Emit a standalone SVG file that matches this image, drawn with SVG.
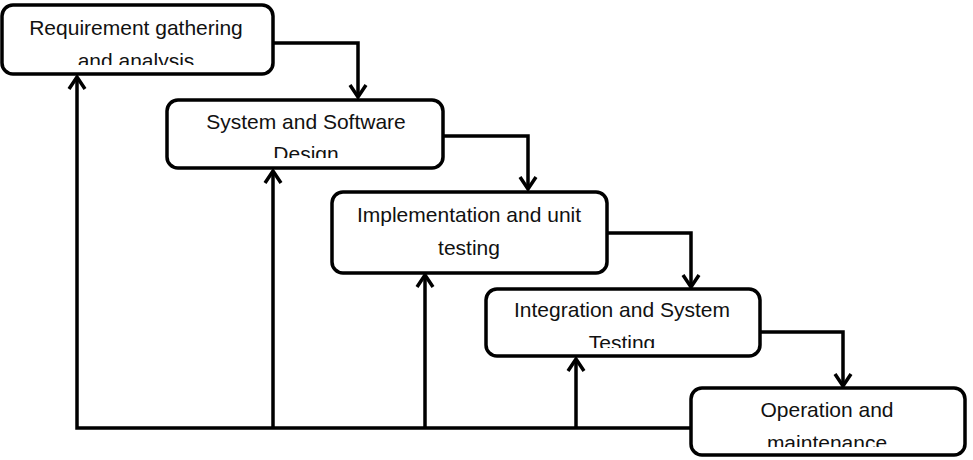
<svg xmlns="http://www.w3.org/2000/svg" width="973" height="460" viewBox="0 0 973 460">
  <style>
    .box { fill: #fff; stroke: #000; stroke-width: 3.5; }
    .lbl { font-family: "Liberation Sans", Arial, sans-serif; font-size: 21px; fill: #111; text-anchor: middle; }
    .con { fill: none; stroke: #000; stroke-width: 3.5; }
  </style>
  <defs>
    <marker id="ah" markerUnits="userSpaceOnUse" viewBox="-3 -3 18 22" markerWidth="18" markerHeight="22" refX="12" refY="8" orient="auto">
      <path d="M0,0 L12,8 L0,16" fill="none" stroke="#000" stroke-width="3.5"/>
    </marker>
    <clipPath id="c1"><rect x="0" y="0" width="300" height="65"/></clipPath>
    <clipPath id="c2"><rect x="160" y="90" width="300" height="68"/></clipPath>
    <clipPath id="c4"><rect x="480" y="280" width="300" height="68"/></clipPath>
    <clipPath id="c5"><rect x="680" y="380" width="300" height="67"/></clipPath>
  </defs>

  <g id="connectors">
    <path class="con" d="M273,43 H358 V97" marker-end="url(#ah)"/>
    <path class="con" d="M443,136 H528 V189" marker-end="url(#ah)"/>
    <path class="con" d="M607,233 H691 V287" marker-end="url(#ah)"/>
    <path class="con" d="M760,332 H843 V386" marker-end="url(#ah)"/>
    <path class="con" d="M690,428 H77 V77" marker-end="url(#ah)"/>
    <path class="con" d="M273,428 V171" marker-end="url(#ah)"/>
    <path class="con" d="M425,428 V275" marker-end="url(#ah)"/>
    <path class="con" d="M576,428 V359" marker-end="url(#ah)"/>
  </g>

  <g id="node1">
    <rect class="box" x="2" y="5" width="271" height="69" rx="11"/>
    <g clip-path="url(#c1)">
      <text class="lbl" x="136" y="35">Requirement gathering</text>
      <text class="lbl" x="136" y="68">and analysis</text>
    </g>
  </g>
  <g id="node2">
    <rect class="box" x="167" y="100" width="276" height="68" rx="11"/>
    <g clip-path="url(#c2)">
      <text class="lbl" x="306" y="129">System and Software</text>
      <text class="lbl" x="306" y="161">Design</text>
    </g>
  </g>
  <g id="node3">
    <rect class="box" x="332" y="192" width="275" height="81" rx="11"/>
    <text class="lbl" x="469" y="222">Implementation and unit</text>
    <text class="lbl" x="469" y="255">testing</text>
  </g>
  <g id="node4">
    <rect class="box" x="486" y="289" width="274" height="67" rx="11"/>
    <g clip-path="url(#c4)">
      <text class="lbl" x="622" y="317">Integration and System</text>
      <text class="lbl" x="622" y="350">Testing</text>
    </g>
  </g>
  <g id="node5">
    <rect class="box" x="691" y="388" width="274" height="67" rx="11"/>
    <g clip-path="url(#c5)">
      <text class="lbl" x="827" y="417">Operation and</text>
      <text class="lbl" x="827" y="450">maintenance</text>
    </g>
  </g>
</svg>
